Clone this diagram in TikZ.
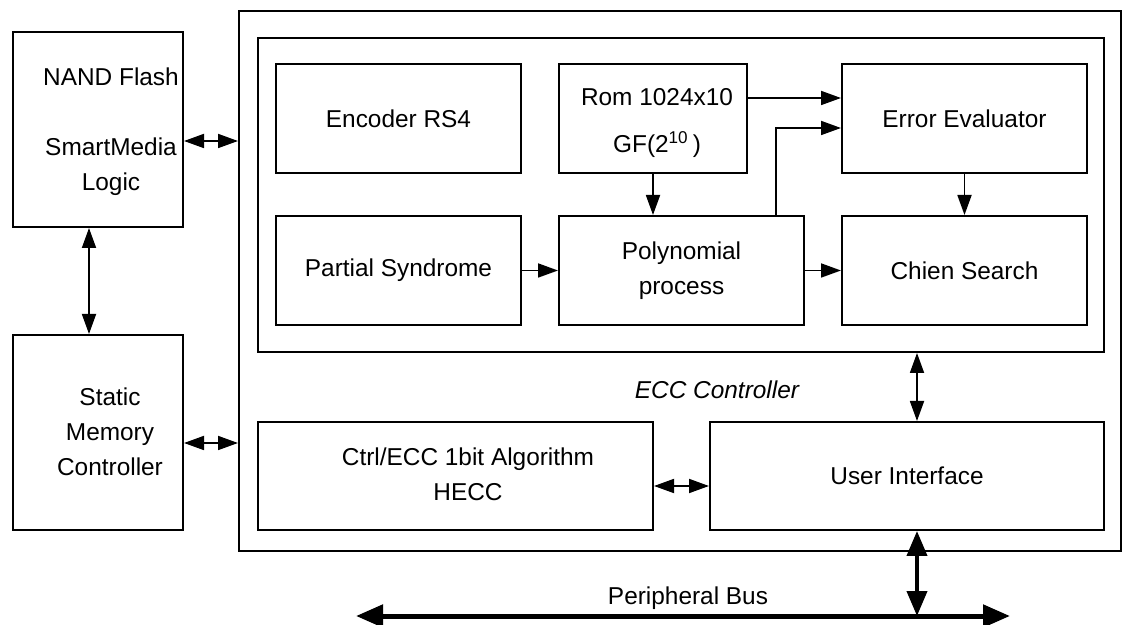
\documentclass[tikz,border=0pt]{standalone}
\usepackage{fontspec}
\setmainfont{Liberation Sans}
\usetikzlibrary{arrows.meta,positioning}
\tikzset{
  eccbox/.style={draw, line width=1pt, rectangle, inner sep=0pt, align=center},
  ecctext/.style={align=center, inner sep=0pt},
  eccarr/.style={-{Triangle[length=10pt,width=7pt]}, line width=0.9pt},
  eccdbl/.style={{Triangle[length=10pt,width=7pt]}-{Triangle[length=10pt,width=7pt]}, line width=0.9pt},
  eccbus/.style={{Triangle[length=13.5pt,width=11pt]}-{Triangle[length=13.5pt,width=11pt]}, line width=2.5pt},
  eccbusv/.style={{Triangle[length=12.5pt,width=10pt]}-{Triangle[length=12.5pt,width=10pt]}, line width=2pt}
}

\begin{document}
\begin{tikzpicture}[x=0.5pt, y=-0.5pt, font=\fontsize{12.2}{17.5}\selectfont]
  \useasboundingbox (0,0) rectangle (1125,625);

  % outside blocks
  \node[eccbox, minimum width=85pt, minimum height=97.5pt] (nand) at (98,129.5) {};
  \node[ecctext] (nandtxt) at (111,132) {NAND Flash\\[17.5pt]SmartMedia\\Logic};
  \node[eccbox, minimum width=85pt, minimum height=97.5pt] (static) at (98,432.5) {};
  \node[ecctext] (statictxt) at (110,432) {Static\\Memory\\Controller};

  % ECC controller
  \node[eccbox, minimum width=441pt, minimum height=270pt] (ecc) at (680,281) {};
  \node[eccbox, minimum width=423pt, minimum height=157pt] (inner) at (681,195) {};
  \node[eccbox, minimum width=122.5pt, minimum height=54.5pt] (enc) at (398.5,118.5) {Encoder RS4};
  \node[eccbox, minimum width=94pt, minimum height=54.5pt] (rom) at (653,118.5) {};
  \node[ecctext] (romtxt) at (657,123) {Rom 1024x10\\[6pt]GF(2\textsuperscript{10}\,)};
  \node[eccbox, minimum width=122.5pt, minimum height=54.5pt] (ee) at (964.5,118.5) {Error Evaluator};
  \node[eccbox, minimum width=122.5pt, minimum height=54.5pt] (ps) at (398.5,270.5) {Partial Syndrome};
  \node[eccbox, minimum width=122.5pt, minimum height=54.5pt] (poly) at (681.5,270.5) {Polynomial\\process};
  \node[eccbox, minimum width=122.5pt, minimum height=54.5pt] (chien) at (964.5,270.5) {Chien Search};
  \node[ecctext] (ecclbl) at (717,390) {\itshape ECC Controller};
  \node[eccbox, minimum width=197.5pt, minimum height=54pt] (ctrl) at (455.5,476) {};
  \node[ecctext] (ctrltxt) at (468,474.5) {Ctrl/ECC 1bit Algorithm\\HECC};
  \node[eccbox, minimum width=197pt, minimum height=54pt] (ui) at (907,476) {User Interface};

  % links
  \coordinate (nandport) at ([yshift=-5.75pt]nand.east);
  \draw[eccdbl] (nandport) -- (nandport -| ecc.west);
  \draw[eccdbl] ([xshift=-4.5pt]nand.south) -- ([xshift=-4.5pt]static.north);
  \coordinate (smcport) at ([yshift=-5.25pt]static.east);
  \draw[eccdbl] (smcport) -- (smcport -| ecc.west);

  \coordinate (romport) at ([yshift=10.25pt]rom.east);
  \draw[eccarr] (romport) -- (romport -| ee.west);
  \coordinate (polyup) at ([xshift=47.25pt]poly.north);
  \coordinate (eein) at ([yshift=-4.75pt]ee.west);
  \draw[eccarr] (polyup) |- (eein);
  \draw[eccarr] (rom.south) -- (rom.south |- poly.north);
  \draw[eccarr] (ee) -- (chien);
  \draw[eccarr] (ps) -- (poly);
  \draw[eccarr] (poly) -- (chien);

  \coordinate (ctrlport) at ([yshift=-5pt]ctrl.east);
  \draw[eccdbl] (ctrlport) -- (ctrlport -| ui.west);
  \coordinate (uitop) at ([xshift=5pt]ui.north);
  \draw[eccdbl] (uitop |- inner.south) -- (uitop);

  % peripheral bus
  \coordinate (busl) at (356,616);
  \coordinate (busr) at (1010,616);
  \draw[eccbus] (busl) -- (busr);
  \coordinate (uibot) at ([xshift=5pt]ui.south);
  \draw[eccbusv] (uibot) -- (uibot |- busl);
  \node[ecctext] (buslbl) at (688,598) {Peripheral Bus};
\end{tikzpicture}
\end{document}
